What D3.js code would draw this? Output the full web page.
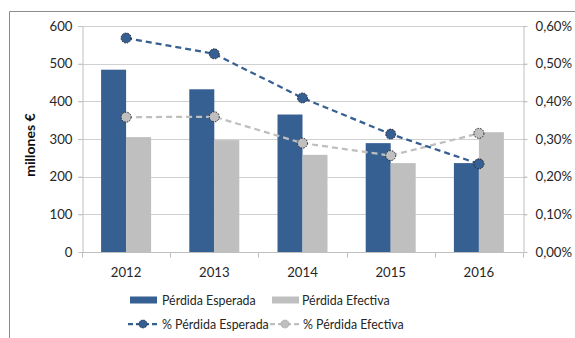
<!DOCTYPE html>
<html>
<head>
<meta charset="utf-8">
<script src="https://cdn.jsdelivr.net/npm/d3@7"></script>
<style>
  html, body { margin: 0; padding: 0; background: #fff; }
  svg { display: block; font-family: Lato, "Open Sans", sans-serif; }
</style>
</head>
<body>
<svg id="chart" width="575" height="338"></svg>
<script>
// Years on the category axis
const years = ["2012", "2013", "2014", "2015", "2016"];
// Expected and effective loss, millions of euros (bars, left axis)
const perdidaEsperada = [484, 432, 365, 289, 236];
const perdidaEfectiva = [305, 297, 258, 236, 318];
// Expected and effective loss as a share (lines, right axis)
const pctEsperada = [0.00568, 0.00526, 0.00409, 0.00313, 0.00234];
const pctEfectiva = [0.00358, 0.00359, 0.00289, 0.00256, 0.00315];
// Axis ticks
const leftTicks = [0, 100, 200, 300, 400, 500, 600];
const rightTicks = [0, 0.001, 0.002, 0.003, 0.004, 0.005, 0.006];

const blue = "#365f92";
const grey = "#bfbfbf";
const textCol = "#262626";
const tickFont = 13.2;

const svg = d3.select("#chart");

// Outer frame (continues past the right and bottom edges)
svg.append("path")
  .attr("d", "M9.5,340 V11.5 H580")
  .attr("fill", "none").attr("stroke", "#8c8c8c").attr("stroke-width", 1);

const plotLeft = 82, plotRight = 523, plotTop = 26, plotBottom = 252;

const x = d3.scaleBand().domain(years).range([plotLeft, plotRight]).paddingInner(0).paddingOuter(0);
const yL = d3.scaleLinear().domain([0, 600]).range([plotBottom, plotTop]);
const yR = d3.scaleLinear().domain([0, 0.006]).range([plotBottom, plotTop]);

// Gridlines
svg.append("g").selectAll("line").data(leftTicks.filter(d => d > 0)).join("line")
  .attr("x1", plotLeft - 4).attr("x2", plotRight + 4)
  .attr("y1", d => Math.round(yL(d)) + 0.5).attr("y2", d => Math.round(yL(d)) + 0.5)
  .attr("stroke", "#d0d0d0").attr("stroke-width", 1);

// Left axis
const axL = svg.append("g").attr("transform", `translate(${plotLeft + 0.5},0)`)
  .call(d3.axisLeft(yL).tickValues(leftTicks).tickSize(4).tickSizeOuter(0).tickPadding(6));
axL.select(".domain").attr("stroke", "#bfbfbf");
axL.selectAll(".tick line").attr("stroke", "#bfbfbf");
axL.selectAll(".tick text").attr("font-size", tickFont).attr("fill", textCol)
  .attr("font-family", "Lato, sans-serif");

// Right axis
const fmtPct = d => d3.format(".2f")(d * 100).replace(".", ",") + "%";
const axR = svg.append("g").attr("transform", `translate(${plotRight + 0.5},0)`)
  .call(d3.axisRight(yR).tickValues(rightTicks).tickSize(4).tickSizeOuter(0).tickPadding(8).tickFormat(fmtPct));
axR.select(".domain").attr("stroke", "#bfbfbf");
axR.selectAll(".tick line").attr("stroke", "#bfbfbf");
axR.selectAll(".tick text").attr("font-size", tickFont).attr("fill", textCol)
  .attr("font-family", "Lato, sans-serif");

// Bottom axis with ticks between categories
const axB = svg.append("g").attr("transform", `translate(0,${plotBottom + 0.5})`);
axB.append("line").attr("x1", plotLeft).attr("x2", plotRight).attr("stroke", "#bfbfbf");
const boundaries = years.map(y => x(y)).concat([plotRight]);
axB.selectAll("line.tk").data(boundaries).join("line").attr("class", "tk")
  .attr("x1", d => Math.round(d) + 0.5).attr("x2", d => Math.round(d) + 0.5)
  .attr("y1", 0).attr("y2", 5).attr("stroke", "#bfbfbf");
axB.selectAll("text").data(years).join("text")
  .attr("x", d => x(d) + x.bandwidth() / 2).attr("y", 24)
  .attr("text-anchor", "middle").attr("font-size", tickFont).attr("fill", textCol)
  .text(d => d);

// Y axis title
svg.append("text")
  .attr("transform", "translate(35,145) rotate(-90)")
  .attr("text-anchor", "middle").attr("font-size", 14).attr("font-weight", "bold")
  .attr("fill", "#111").text("millones €");

// Bars
const barW = 25;
const bars = svg.append("g");
bars.selectAll("rect.esp").data(years).join("rect").attr("class", "esp")
  .attr("x", d => x(d) + x.bandwidth() / 2 - barW)
  .attr("width", barW)
  .attr("y", (d, i) => yL(perdidaEsperada[i]))
  .attr("height", (d, i) => yL(0) - yL(perdidaEsperada[i]))
  .attr("fill", blue);
bars.selectAll("rect.efe").data(years).join("rect").attr("class", "efe")
  .attr("x", d => x(d) + x.bandwidth() / 2)
  .attr("width", barW)
  .attr("y", (d, i) => yL(perdidaEfectiva[i]))
  .attr("height", (d, i) => yL(0) - yL(perdidaEfectiva[i]))
  .attr("fill", grey);

// Lines
const cx = d => x(d) + x.bandwidth() / 2;
function drawSeries(values, color) {
  const pts = years.map((d, i) => [cx(d), yR(values[i])]);
  svg.append("path").attr("d", d3.line()(pts))
    .attr("fill", "none").attr("stroke", color).attr("stroke-width", 2.25)
    .attr("stroke-dasharray", "6,4");
  svg.append("g").selectAll("circle").data(pts).join("circle")
    .attr("cx", d => d[0]).attr("cy", d => d[1]).attr("r", 5)
    .attr("fill", color).attr("stroke", "#222").attr("stroke-width", 1)
    .attr("stroke-dasharray", "1.5,1.2");
}
drawSeries(pctEfectiva, grey);
drawSeries(pctEsperada, blue);

// Legend
const legend = svg.append("g").attr("font-size", 12.4).attr("fill", textCol);
const row1 = 300, row2 = 324;
const barItems = [
  { label: "Pérdida Esperada", color: blue, x0: 130, tx: 162 },
  { label: "Pérdida Efectiva", color: grey, x0: 272, tx: 302 }
];
barItems.forEach(it => {
  legend.append("rect").attr("x", it.x0).attr("y", row1 - 3.5).attr("width", 27).attr("height", 7)
    .attr("fill", it.color);
  legend.append("text").attr("x", it.tx).attr("y", row1 + 4.5).attr("fill", textCol).text(it.label);
});
const lineItems = [
  { label: "% Pérdida Esperada", color: blue, x0: 128, tx: 162 },
  { label: "% Pérdida Efectiva", color: grey, x0: 270, tx: 303 }
];
lineItems.forEach(it => {
  legend.append("line").attr("x1", it.x0).attr("x2", it.x0 + 30)
    .attr("y1", row2).attr("y2", row2)
    .attr("stroke", it.color).attr("stroke-width", 2.25).attr("stroke-dasharray", "5,3");
  legend.append("circle").attr("cx", it.x0 + 15).attr("cy", row2).attr("r", 4)
    .attr("fill", it.color).attr("stroke", it.color === grey ? "#999" : "#222")
    .attr("stroke-width", 0.8).attr("stroke-dasharray", "1.5,1.2");
  legend.append("text").attr("x", it.tx).attr("y", row2 + 4.5).attr("fill", textCol).text(it.label);
});
</script>
</body>
</html>
